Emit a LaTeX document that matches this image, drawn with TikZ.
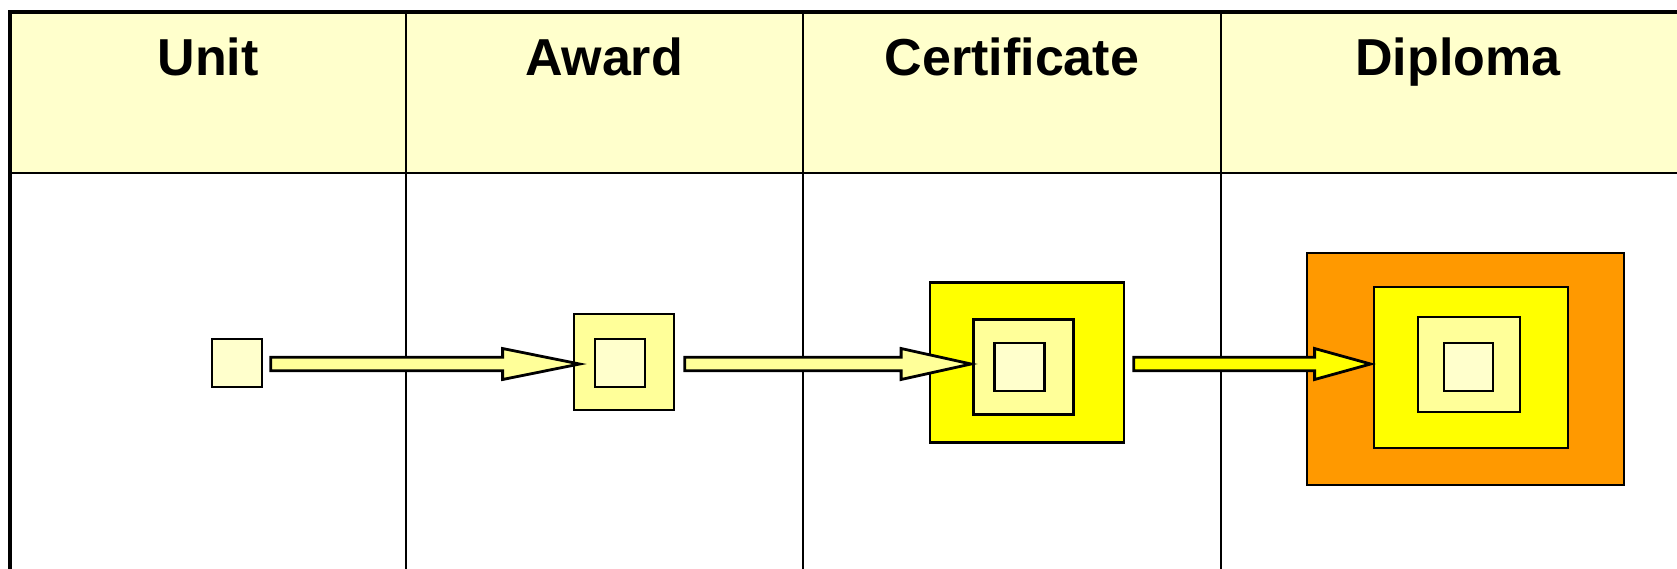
\documentclass[tikz,border=0pt]{standalone}
\usepackage{fontspec}
\setmainfont{Liberation Sans}
\usetikzlibrary{calc}
\definecolor{paleyellow}{HTML}{FFFFCC}
\definecolor{lightyellow}{HTML}{FFFF99}
\definecolor{pureyellow}{HTML}{FFFF00}
\definecolor{orangefill}{HTML}{FF9900}
\newcommand\myfatarrow[4]{%
  \draw[#4] let \p1=(#1), \p2=(#2) in
    (\x1,\y1+6.7pt) -- (\x2-#3,\y1+6.7pt) -- (\x2-#3,\y1+15.5pt) -- (\x2,\y2)
    -- (\x2-#3,\y2-15.5pt) -- (\x2-#3,\y1-6.7pt) -- (\x1,\y1-6.7pt) -- cycle;}
\begin{document}
\begin{tikzpicture}[x=1pt,y=-1pt,
  box/.style={draw=black, line width=2.8pt, rectangle, inner sep=0pt, minimum width=#1},
  gridline/.style={draw=black, line width=2.2pt},
  border/.style={draw=black, line width=4.2pt},
  fatarr/.style={draw=black, line width=2.8pt, line join=miter, fill=#1},
  head/.style={font=\bfseries\fontsize{52}{60}\selectfont, anchor=base, inner sep=0pt}]
\useasboundingbox (0,0) rectangle (1677,568);
\clip (0,0) rectangle (1677,568);
\fill[white] (0,0) rectangle (1677,568);
% header band
\fill[paleyellow] (10,12) rectangle (1690,173);
% grid lines
\draw[gridline] (10,173) -- (1690,173);
\draw[gridline] (406,12) -- (406,580);
\draw[gridline] (803,12) -- (803,580);
\draw[gridline] (1221,12) -- (1221,580);
% outer border
\draw[border] (10,580) -- (10,12) -- (1690,12);
% header texts
\node[head] (hUnit) at (208,75) {Unit};
\node[head] (hAward) at (604,75) {Award};
\node[head] (hCert) at (1012,75) {Certificate};
\node[head] (hDip) at (1458,75) {Diploma};
% Unit
\node[box=50pt, minimum height=48pt, fill=paleyellow] (u) at (237,363) {};
% Award
\node[box=100pt, minimum height=96pt, fill=lightyellow] (aw) at (624,362) {};
\node[box=50pt, minimum height=48pt, fill=paleyellow] (awi) at (620,363) {};
% Certificate
\node[box=194pt, minimum height=160pt, fill=pureyellow] (ce) at (1027,362.5) {};
\node[box=100pt, minimum height=95pt, fill=lightyellow] (cem) at (1023.5,367) {};
\node[box=50pt, minimum height=48pt, fill=paleyellow] (cei) at (1019.5,367) {};
% Diploma
\node[box=317pt, minimum height=232pt, fill=orangefill] (di) at (1465.5,369) {};
\node[box=194pt, minimum height=161pt, fill=pureyellow] (dim) at (1471,367.5) {};
\node[box=102pt, minimum height=95pt, fill=lightyellow] (dil) at (1469,364.5) {};
\node[box=49pt, minimum height=48pt, fill=paleyellow] (dii) at (1468.5,367) {};
% arrows
\coordinate (s1) at ([xshift=7.4pt]u.east |- 0,364);
\coordinate (t1) at ([xshift=7pt]aw.west |- 0,364);
\coordinate (s2) at ([xshift=9.4pt]aw.east |- 0,364);
\coordinate (t2) at ([xshift=-1pt]cem.west |- 0,364);
\coordinate (s3) at ([xshift=8.4pt]ce.east |- 0,364);
\coordinate (t3) at ([xshift=-2pt]dim.west |- 0,364);
\myfatarrow{s1}{t1}{77pt}{fatarr=lightyellow}
\myfatarrow{s2}{t2}{70pt}{fatarr=lightyellow}
\myfatarrow{s3}{t3}{56pt}{fatarr=pureyellow}
\end{tikzpicture}
\end{document}
